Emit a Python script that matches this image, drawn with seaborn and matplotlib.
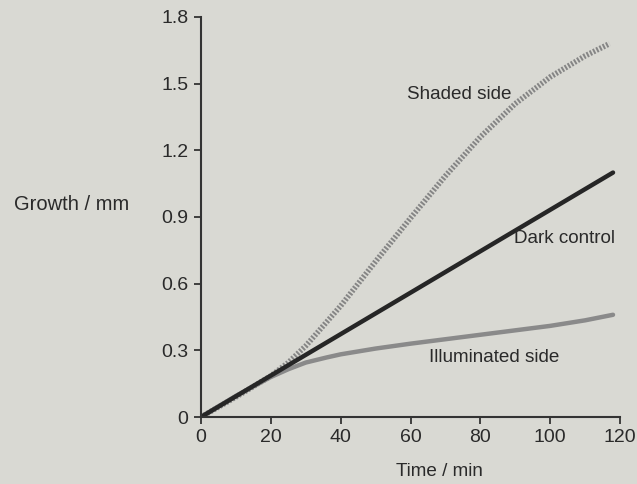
import matplotlib
matplotlib.use("Agg")
import matplotlib.pyplot as plt
import seaborn as sns
import pandas as pd

# Data
time_dark = [0, 118]
growth_dark = [0.0, 1.10]

time_shaded = [0, 10, 20, 25, 30, 35, 40, 45, 50, 60, 70, 80, 90, 100, 110, 117]
growth_shaded = [0.0, 0.09, 0.185, 0.245, 0.32, 0.41, 0.50, 0.60, 0.70, 0.895, 1.085, 1.26,
                 1.41, 1.53, 1.625, 1.68]

time_illum = [0, 10, 20, 25, 30, 36, 40, 50, 60, 70, 80, 90, 100, 110, 118]
growth_illum = [0.0, 0.095, 0.18, 0.215, 0.245, 0.268, 0.282, 0.308, 0.33, 0.35, 0.37, 0.39, 0.41, 0.435, 0.46]

x_ticks = [0, 20, 40, 60, 80, 100, 120]
y_ticks = [0, 0.3, 0.6, 0.9, 1.2, 1.5, 1.8]
y_tick_labels = ["0", "0.3", "0.6", "0.9", "1.2", "1.5", "1.8"]

sns.set_theme(style="ticks")
plt.rcParams["font.family"] = ["Liberation Sans", "DejaVu Sans"]

bg = "#d9d9d3"
txt = "#2a2a2a"
fig = plt.figure(figsize=(6.37, 4.84), dpi=100, facecolor=bg)
ax = fig.add_axes([201 / 637, 1 - 417 / 484, (620 - 201) / 637, (417 - 17) / 484])
ax.set_facecolor(bg)

df_dark = pd.DataFrame({"t": time_dark, "g": growth_dark})
df_shaded = pd.DataFrame({"t": time_shaded, "g": growth_shaded})
df_illum = pd.DataFrame({"t": time_illum, "g": growth_illum})

sns.lineplot(data=df_illum, x="t", y="g", ax=ax, color="#8a8a8a", linewidth=3.2,
             solid_capstyle="round")
sns.lineplot(data=df_shaded, x="t", y="g", ax=ax, color="#858585", linewidth=4.0)
ax.lines[-1].set_dashes([0.35, 0.3])
sns.lineplot(data=df_dark, x="t", y="g", ax=ax, color="#262626", linewidth=3.2,
             solid_capstyle="round")

ax.set_xlim(0, 120)
ax.set_ylim(0, 1.8)
ax.set_xticks(x_ticks)
ax.set_yticks(y_ticks)
ax.set_yticklabels(y_tick_labels)
ax.tick_params(axis="both", labelsize=14, length=5, width=1.3, color="#333333",
               labelcolor=txt, pad=4)
for s in ["top", "right"]:
    ax.spines[s].set_visible(False)
for s in ["left", "bottom"]:
    ax.spines[s].set_color("#333333")
    ax.spines[s].set_linewidth(1.5)

ax.set_xlabel("Time / min", fontsize=13.6, color=txt)
ax.xaxis.set_label_coords(0.568, -0.115)
ax.set_ylabel("")
fig.text(72 / 637, 1 - 205 / 484, "Growth / mm", fontsize=14.5, color=txt,
         ha="center", va="center")

ax.text(74, 1.45, "Shaded side", fontsize=13.6, color=txt, ha="center", va="center")
ax.text(104, 0.805, "Dark control", fontsize=13.6, color=txt, ha="center", va="center")
ax.text(84, 0.27, "Illuminated side", fontsize=13.6, color=txt, ha="center", va="center")

fig.savefig("out.png", dpi=100, facecolor=bg)
